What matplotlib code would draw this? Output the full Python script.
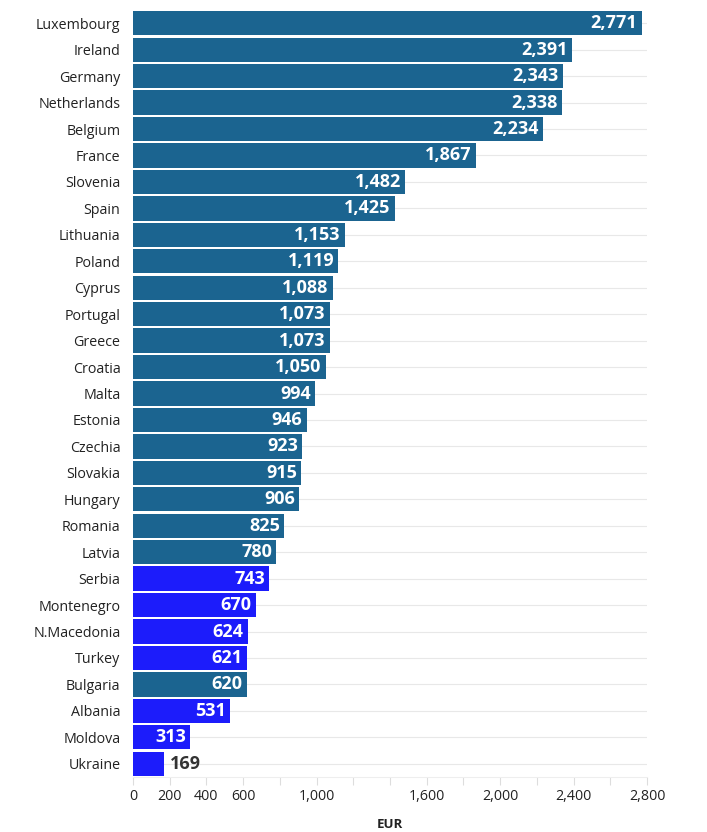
import matplotlib
matplotlib.use("Agg")
import matplotlib.pyplot as plt
from matplotlib.ticker import FixedLocator

countries = ["Luxembourg", "Ireland", "Germany", "Netherlands", "Belgium", "France",
             "Slovenia", "Spain", "Lithuania", "Poland", "Cyprus", "Portugal", "Greece",
             "Croatia", "Malta", "Estonia", "Czechia", "Slovakia", "Hungary", "Romania",
             "Latvia", "Serbia", "Montenegro", "N.Macedonia", "Turkey", "Bulgaria",
             "Albania", "Moldova", "Ukraine"]
values = [2771, 2391, 2343, 2338, 2234, 1867, 1482, 1425, 1153, 1119, 1088, 1073, 1073,
          1050, 994, 946, 923, 915, 906, 825, 780, 743, 670, 624, 621, 620, 531, 313, 169]
groups = ["EU"] * 21 + ["nonEU", "nonEU", "nonEU", "nonEU", "EU", "nonEU", "nonEU", "nonEU"]
tick_values = [0, 200, 400, 600, 800, 1000, 1200, 1400, 1600, 1800, 2000, 2200, 2400, 2600, 2800]
tick_labels = ["0", "200", "400", "600", "", "1,000", "", "", "1,600", "", "2,000", "", "2,400", "", "2,800"]

colors = {"EU": "#1b6490", "nonEU": "#1c1cfb"}

plt.rcParams['font.family'] = ['Open Sans', 'DejaVu Sans']

fig = plt.figure(figsize=(7.07, 8.32), dpi=100)
ax = fig.add_axes([133 / 707, 1 - 777 / 832, 514 / 707, 767 / 832])

ypos = list(range(len(countries)))
for y in ypos:
    ax.plot([0, 2800], [y, y], color="#e8e8e8", lw=0.8, zorder=0)

ax.barh(ypos, values, height=0.92, color=[colors[g] for g in groups], zorder=2)

for y, v in zip(ypos, values):
    txt = f"{v:,}"
    if v < 250:
        ax.annotate(txt, (v, y), xytext=(4, 0), textcoords="offset points",
                    ha="left", va="center", fontsize=13, fontweight="bold", color="#333333")
    else:
        ax.annotate(txt, (v, y), xytext=(-3, 0), textcoords="offset points",
                    ha="right", va="center", fontsize=13, fontweight="bold", color="white")

ax.set_ylim(len(countries) - 0.5, -0.5)
ax.set_xlim(0, 2800)
ax.set_yticks(ypos)
ax.set_yticklabels(countries, fontsize=10.3, color="#222222")
ax.tick_params(axis="y", length=0, pad=9)

ax.xaxis.set_major_locator(FixedLocator(tick_values))
ax.set_xticklabels(tick_labels, fontsize=10.3, color="#222222")
ax.tick_params(axis="x", length=6, color="#dddddd", width=0.8, pad=3)

for s in ["top", "right", "left"]:
    ax.spines[s].set_visible(False)
ax.spines["bottom"].set_color("#eeeeee")
ax.spines["bottom"].set_linewidth(0.8)

fig.text(390 / 707, 1 - 824 / 832, "EUR", fontsize=9.5, fontweight="bold",
         color="#222222", ha="center", va="center")

fig.savefig("out.png", dpi=100)
